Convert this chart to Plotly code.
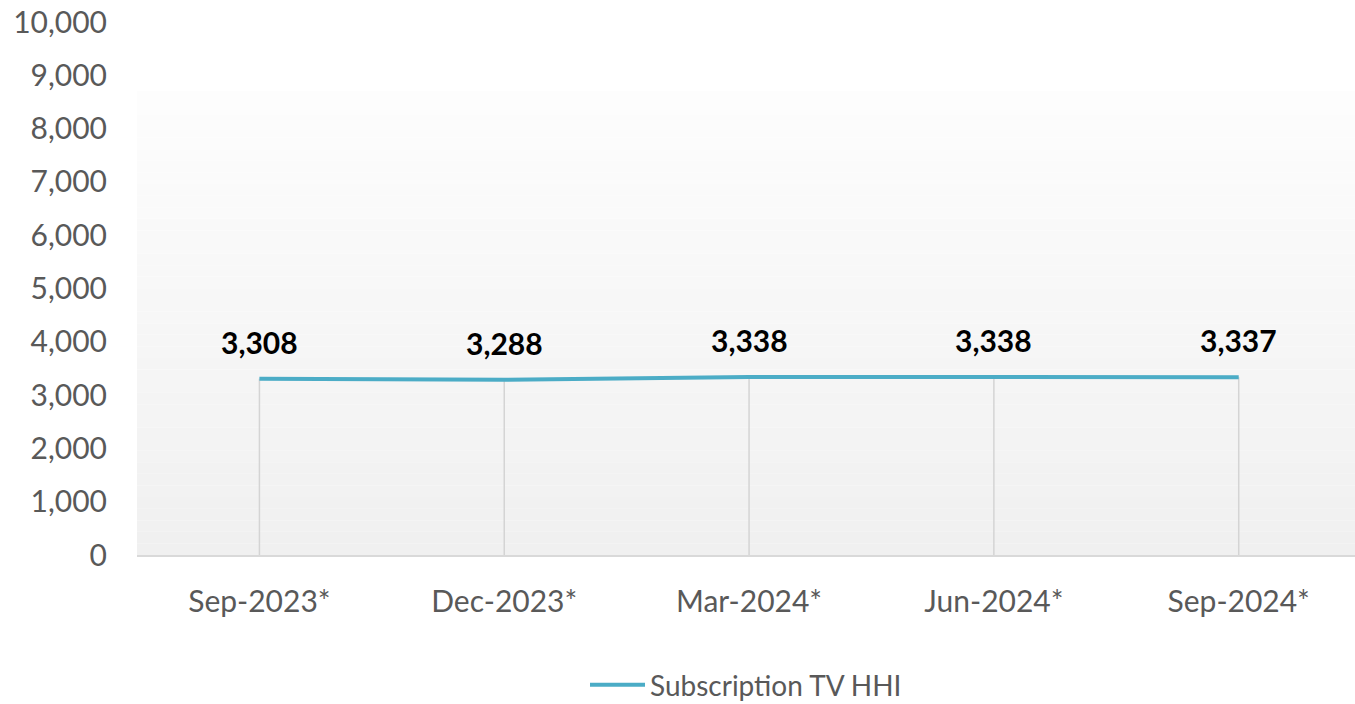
import plotly.graph_objects as go

# Data
quarters = ['Sep-2023*', 'Dec-2023*', 'Mar-2024*', 'Jun-2024*', 'Sep-2024*']
hhi = [3308, 3288, 3338, 3338, 3337]

line_color = '#4BACC6'
text_gray = '#595959'
font_family = 'Lato, Open Sans, sans-serif'

fig = go.Figure()

fig.add_trace(go.Scatter(
    x=quarters,
    y=hhi,
    mode='lines',
    name='Subscription TV HHI',
    line=dict(color=line_color, width=4),
    # drop lines down to the axis
    error_y=dict(type='data', symmetric=False, array=[0] * len(hhi),
                 arrayminus=hhi, color='#d4d4d4', thickness=1.5, width=0),
))

# bold value labels above each point
for q, v in zip(quarters, hhi):
    fig.add_annotation(x=q, y=v, text=f'<b>{v:,}</b>', showarrow=False,
                       yshift=37, font=dict(size=30, color='black', family=font_family))

# gradient plot-area background (Excel style), built from thin bands
n_bands = 40
top = 0.87
for i in range(n_bands):
    y0 = top * i / n_bands
    y1 = top * (i + 1) / n_bands
    t = i / (n_bands - 1)
    c = int(round(0xF0 + (0xFD - 0xF0) * t))
    fig.add_shape(type='rect', xref='paper', yref='paper', x0=0, x1=1, y0=y0, y1=y1,
                  fillcolor=f'rgb({c},{c},{c})', line=dict(width=0), layer='below')

fig.update_layout(
    width=1355, height=704,
    margin=dict(l=137, r=0, t=22, b=149),
    paper_bgcolor='white',
    plot_bgcolor='rgba(0,0,0,0)',
    font=dict(family=font_family, size=30, color=text_gray),
    showlegend=True,
    legend=dict(orientation='h', x=0.5, xanchor='center',
                yref='container', y=0.027, yanchor='middle',
                itemwidth=55, font=dict(size=28, color=text_gray)),
    xaxis=dict(
        type='category',
        range=[-0.5, 4.475],
        showgrid=False,
        showline=True, linecolor='#d9d9d9', linewidth=1.5,
        ticks='outside', tickcolor='rgba(0,0,0,0)', ticklen=19,
        tickfont=dict(size=30, color=text_gray),
        automargin=False,
        fixedrange=True,
    ),
    yaxis=dict(
        range=[0, 10000],
        dtick=1000,
        tickformat=',d',
        showgrid=False,
        zeroline=False,
        showline=False,
        ticks='outside', tickcolor='rgba(0,0,0,0)', ticklen=23,
        ticklabeloverflow='allow',
        tickfont=dict(size=30, color=text_gray),
        automargin=False,
        fixedrange=True,
    ),
)

# drop the default 8px page margin so the figure sits at the window's corner
fig.write_html('out.html', config={'displayModeBar': False},
               post_script="document.body.style.margin='0';")
